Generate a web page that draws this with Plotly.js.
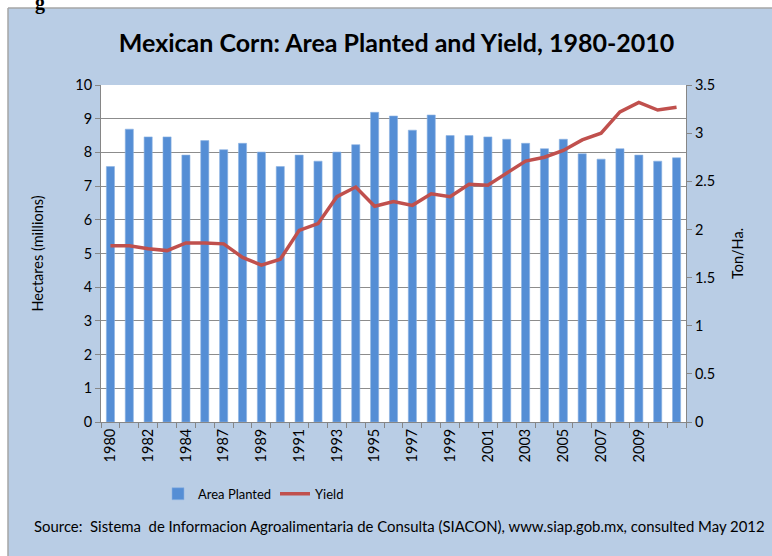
<!DOCTYPE html>
<html>
<head>
<meta charset="utf-8">
<script src="https://cdn.plot.ly/plotly-3.0.1.min.js"></script>
<style>html,body{margin:0;padding:0;background:#fff;}#chart{width:772px;height:556px;}</style>
</head>
<body>
<div id="chart"></div>
<script>
// 31 categories (1980-2010)
var years = [1980,1981,1982,1983,1984,1985,1986,1987,1988,1989,1990,1991,1992,1993,1994,1995,1996,1997,1998,1999,2000,2001,2002,2003,2004,2005,2006,2007,2008,2009,2010];
// tick labels as printed on the original (every other category)
var tickLabels = ["1980","1982","1984","1987","1989","1991","1993","1995","1997","1999","2001","2003","2005","2007","2009"];
// Area planted, million hectares
var areaPlanted = [7.58,8.69,8.46,8.46,7.92,8.35,8.08,8.27,8.01,7.58,7.92,7.74,8.01,8.23,9.19,9.08,8.66,9.11,8.50,8.50,8.46,8.39,8.27,8.11,8.39,7.96,7.80,8.11,7.92,7.74,7.84];
// Yield, ton/ha
var yieldTonHa = [1.83,1.83,1.80,1.78,1.86,1.86,1.85,1.71,1.63,1.69,1.99,2.06,2.34,2.44,2.24,2.29,2.25,2.37,2.34,2.47,2.46,2.58,2.71,2.75,2.82,2.93,3.00,3.22,3.32,3.24,3.27];

var idx = years.map(function(_, i){ return i; });
var tickIdx = tickLabels.map(function(_, i){ return i * 2; });

var font = "Lato, 'Open Sans', sans-serif";
var grey = '#868686';

var traces = [
  {type:'bar', name:'Area Planted', x:idx, y:areaPlanted, marker:{color:'#558ED5', line:{color:'#8DB3E2', width:0.6}}, width:0.43, legend:'legend'},
  {type:'scatter', mode:'lines', name:'Yield', x:idx, y:yieldTonHa, yaxis:'y2', line:{color:'#C0504D', width:3.5}, legend:'legend2'}
];

var legendCommon = {orientation:'h', xanchor:'left', yanchor:'middle', bgcolor:'rgba(0,0,0,0)', font:{family:font, size:13}, itemwidth:30};

var layout = {
  width:772, height:556,
  margin:{l:101, r:86, t:85, b:134},
  paper_bgcolor:'#B9CDE5',
  plot_bgcolor:'#FFFFFF',
  font:{family:font, size:14, color:'#000'},
  title:{text:'<b>Mexican Corn: Area Planted and Yield, 1980-2010</b>', font:{family:font, size:25, color:'#000'}, xref:'paper', x:(396.5-101)/585, xanchor:'center', y:0.922, yanchor:'middle'},
  showlegend:true,
  legend:Object.assign({}, legendCommon, {x:(158-101)/585, y:-0.213}),
  legend2:Object.assign({}, legendCommon, {x:(275-101)/585, y:-0.213}),
  xaxis:{range:[-0.5, 30.5], tickmode:'array', tickvals:tickIdx, ticktext:tickLabels, tickangle:-90, ticks:'', showgrid:false, showline:true, linecolor:grey, linewidth:1, zeroline:false,
    minor:{tick0:-0.5, dtick:1, ticks:'outside', ticklen:5, tickcolor:grey, showgrid:false},
    tickfont:{family:font, size:14.5}, fixedrange:true},
  yaxis:{range:[0,10], dtick:1, ticks:'outside', ticklen:5, tickcolor:grey, showline:true, linecolor:grey, showgrid:true, gridcolor:'#8C8C8C', gridwidth:1, zeroline:false,
    title:{text:'Hectares (millions)', font:{family:font, size:14.5}, standoff:28}, tickfont:{family:font, size:14.5}},
  yaxis2:{range:[0,3.5], dtick:0.5, overlaying:'y', side:'right', ticks:'outside', ticklen:5, tickcolor:grey, showline:true, linecolor:grey, showgrid:false, zeroline:false,
    title:{text:'Ton/Ha.', font:{family:font, size:14.5}, standoff:18}, tickfont:{family:font, size:14.5}},
  shapes:[
    {type:'rect', xref:'paper', yref:'paper', x0:-0.2, x1:1.2, y0:(422-8)/337, y1:1.35, fillcolor:'#FFFFFF', line:{width:0}, layer:'below'},
    {type:'rect', xref:'paper', yref:'paper', x0:-0.2, x1:(8-101)/585, y0:-0.45, y1:1.35, fillcolor:'#FFFFFF', line:{width:0}, layer:'below'},
    {type:'line', xref:'paper', yref:'paper', x0:(8-101)/585, x1:1.2, y0:(422-8)/337, y1:(422-8)/337, line:{color:'#A6A6A6', width:1.5}, layer:'below'},
    {type:'line', xref:'paper', yref:'paper', x0:(8-101)/585, x1:(8-101)/585, y0:-0.45, y1:(422-8)/337, line:{color:'#A6A6A6', width:1.5}, layer:'below'}
  ],
  annotations:[
    {text:'Source:  Sistema  de Informacion Agroalimentaria de Consulta (SIACON), www.siap.gob.mx, consulted May 2012', xref:'paper', yref:'paper', x:(399-101)/585, y:(422-526)/337, xanchor:'center', yanchor:'middle', showarrow:false, font:{family:font, size:14.9, color:'#000'}},
    {text:'<b>g</b>', xref:'paper', yref:'paper', x:(40-101)/585, y:(422-2)/337, xanchor:'center', yanchor:'middle', showarrow:false, font:{family:"'Liberation Serif', serif", size:20, color:'#000'}}
  ]
};

Plotly.newPlot('chart', traces, layout, {displayModeBar:false, staticPlot:true});
</script>
</body>
</html>
